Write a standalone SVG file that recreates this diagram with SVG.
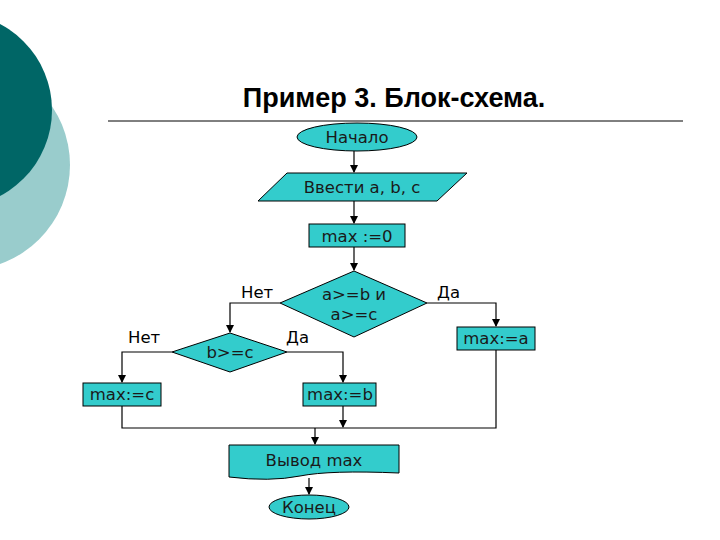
<svg xmlns="http://www.w3.org/2000/svg" width="720" height="540" viewBox="0 0 720 540">
<style>
.s{fill:#33CCCC;stroke:#000;stroke-width:1}
.t{font-family:"DejaVu Sans",Verdana,sans-serif;font-size:16.5px;fill:#1a1a1a;text-anchor:middle}
.l{font-family:"DejaVu Sans",Verdana,sans-serif;font-size:16.5px;fill:#000}
.c{fill:none;stroke:#000;stroke-width:1.2}
</style>
<defs><marker id="a" markerWidth="8" markerHeight="8" refX="7" refY="4" orient="auto" markerUnits="userSpaceOnUse"><path d="M0,0L8,4L0,8z"/></marker></defs>
<rect width="720" height="540" fill="#fff"/>
<circle cx="-35" cy="165" r="105" fill="#99CCCC"/>
<circle cx="-45" cy="110" r="97" fill="#006666"/>
<text x="394" y="107" font-family="Liberation Sans,Arial,sans-serif" font-size="27" font-weight="bold" text-anchor="middle">Пример 3. Блок-схема.</text>
<line x1="108" y1="121" x2="683" y2="121" stroke="#000" stroke-width="1"/>
<g id="connectors">
<line class="c" x1="354" y1="151" x2="354" y2="172" marker-end="url(#a)"/>
<line class="c" x1="354" y1="201" x2="354" y2="223" marker-end="url(#a)"/>
<line class="c" x1="354" y1="247" x2="354" y2="270" marker-end="url(#a)"/>
<polyline class="c" points="280,303 230,303 230,332" marker-end="url(#a)"/>
<polyline class="c" points="427,303 496,303 496,326" marker-end="url(#a)"/>
<polyline class="c" points="172,352 122,352 122,382" marker-end="url(#a)"/>
<polyline class="c" points="287,352 343,352 343,382" marker-end="url(#a)"/>
<line class="c" x1="343" y1="406" x2="343" y2="427" marker-end="url(#a)"/>
<polyline class="c" points="122,406 122,428 496,428 496,350"/>
<line class="c" x1="315" y1="428" x2="315" y2="444" marker-end="url(#a)"/>
<line class="c" x1="309" y1="478" x2="309" y2="494" marker-end="url(#a)"/>
<text class="l" x="241" y="298">Нет</text>
<text class="l" x="437" y="298">Да</text>
<text class="l" x="128" y="343">Нет</text>
<text class="l" x="286" y="343">Да</text>
</g>
<g id="start"><ellipse class="s" cx="357" cy="137" rx="60" ry="14"/><text class="t" x="357" y="143">Начало</text></g>
<g id="input"><polygon class="s" points="258,201 287,173 467,173 437,201"/><text class="t" x="362" y="193">Ввести a, b, c</text></g>
<g id="init"><rect class="s" x="309" y="224" width="96" height="23"/><text class="t" x="357" y="242">max :=0</text></g>
<g id="cond1"><polygon class="s" points="280,303 354,271 427,303 354,337"/><text class="t" x="354" y="300">a&gt;=b и</text><text class="t" x="354" y="320">a&gt;=c</text></g>
<g id="cond2"><polygon class="s" points="172,352 230,333 287,352 230,372"/><text class="t" x="230" y="358">b&gt;=c</text></g>
<g id="maxa"><rect class="s" x="457" y="327" width="78" height="23"/><text class="t" x="496" y="344">max:=a</text></g>
<g id="maxc"><rect class="s" x="83" y="383" width="78" height="23"/><text class="t" x="122" y="400">max:=c</text></g>
<g id="maxb"><rect class="s" x="303" y="383" width="73" height="23"/><text class="t" x="340" y="400">max:=b</text></g>
<g id="output"><path class="s" d="M229,445H399V473Q330,470 300,476T229,477Z"/><text class="t" x="314" y="466">Вывод max</text></g>
<g id="end"><ellipse class="s" cx="309" cy="507" rx="40" ry="12"/><text class="t" x="309" y="513">Конец</text></g>
</svg>
